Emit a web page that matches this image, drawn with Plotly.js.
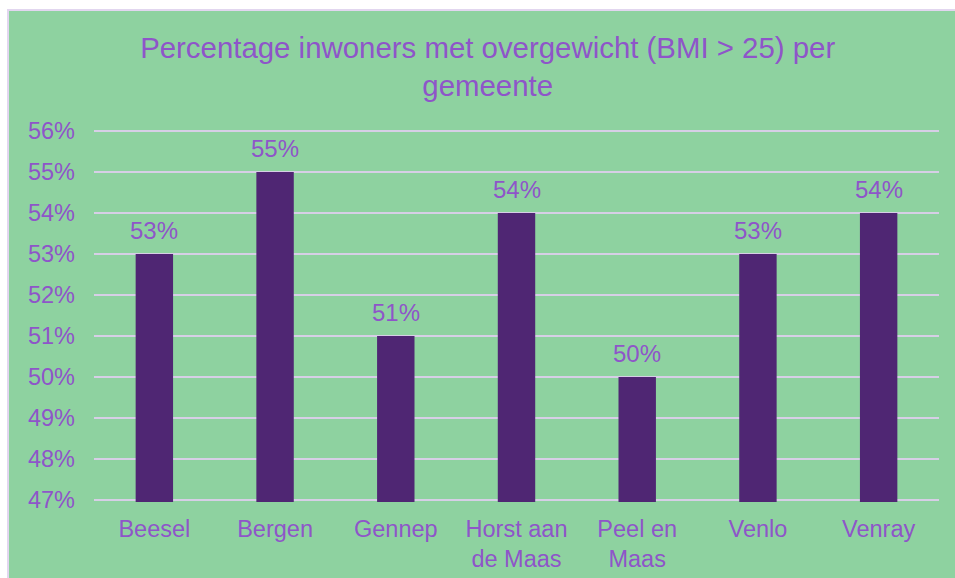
<!DOCTYPE html>
<html><head><meta charset="utf-8">
<script src="https://cdn.plot.ly/plotly-3.0.1.min.js"></script>
<style>
html,body{margin:0;padding:0;background:#fff;width:955px;height:578px;overflow:hidden}
#wrap{position:absolute;left:7px;top:9px;width:946px;height:567px;border-left:2px solid #E2D6EF;border-top:2px solid #E2D6EF;background:#8ED2A0}
#chart{width:946px;height:567px}
</style></head><body>
<div id="wrap"><div id="chart"></div></div>
<script>
const categories = ["Beesel","Bergen","Gennep","Horst aan<br>de Maas","Peel en<br>Maas","Venlo","Venray"];
const values = [0.53,0.55,0.51,0.54,0.50,0.53,0.54];
const labels = ["53%","55%","51%","54%","50%","53%","54%"];
const txt = '#8E55C9';
const font = 'Liberation Sans, Arial, sans-serif';
const annotations = categories.map((c,i)=>({
  x:c, y:values[i], xref:'x', yref:'y', text:labels[i], showarrow:false,
  yanchor:'bottom', yshift:8, font:{family:font, size:24, color:txt}
}));
Plotly.newPlot('chart',[{
  type:'bar', x:categories, y:values,
  marker:{color:'#4F2673'}, hoverinfo:'skip'
}],{
  width:946,height:567,
  paper_bgcolor:'#8ED2A0', plot_bgcolor:'#8ED2A0',
  margin:{l:85,r:16,t:118,b:76},
  bargap:0.69,
  font:{family:font, color:txt},
  title:{text:'Percentage inwoners met overgewicht (BMI > 25) per<br>gemeente', xref:'container', x:0.506, xanchor:'center', y:0.917, yanchor:'top', font:{size:29.4,color:txt}},
  xaxis:{tickfont:{size:23.5,color:txt}, showgrid:false, showline:false, ticks:'', ticklabelstandoff:10},
  yaxis:{range:[0.4695,0.5605], dtick:0.01, tick0:0.47, tickformat:'.0%', tickfont:{size:23.5,color:txt},
    gridcolor:'#D6CFE6', gridwidth:2, zeroline:false, showline:false, ticks:'', ticklabelstandoff:18},
  annotations:annotations,
  showlegend:false
},{displayModeBar:false, staticPlot:true});
</script></body></html>
